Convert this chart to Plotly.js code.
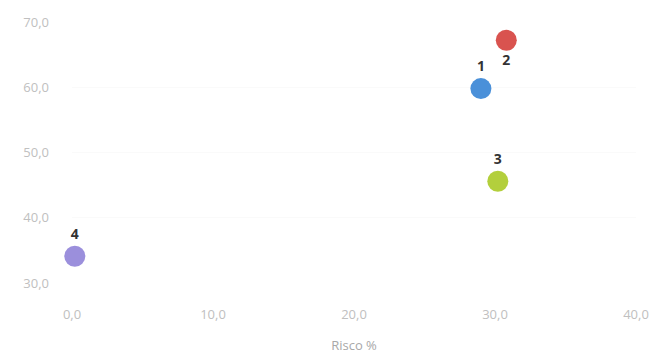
<!DOCTYPE html>
<html>
<head>
<meta charset="utf-8">
<script src="https://cdn.plot.ly/plotly-3.0.1.min.js"></script>
<style>html,body{margin:0;padding:0;background:#fff;}#chart{width:651px;height:354px;}</style>
</head>
<body>
<div id="chart"></div>
<script>
const labels = ["1", "2", "3", "4"];
const risco = [29.0, 30.8, 30.2, 0.2];
const retorno = [59.8, 67.2, 45.6, 34.1];
const colors = ["#4a90d9", "#d9534f", "#b3cf3c", "#9b8fdc"];
const labelPos = ["top center", "bottom center", "top center", "top center"];
const xTicks = [0, 10, 20, 30, 40];
const xTickText = ["0,0", "10,0", "20,0", "30,0", "40,0"];
const yTicks = [30, 40, 50, 60, 70];
const yTickText = ["30,0", "40,0", "50,0", "60,0", "70,0"];

const trace = {
  type: "scatter",
  mode: "markers+text",
  x: risco,
  y: retorno,
  text: labels,
  textposition: labelPos,
  textfont: {family: "Open Sans, sans-serif", size: 14, color: "#333333", weight: "bold"},
  marker: {size: 21, color: colors, line: {width: 0}},
  cliponaxis: false,
  hoverinfo: "none"
};

const layout = {
  width: 651, height: 354,
  margin: {l: 72, r: 15, t: 22, b: 71},
  paper_bgcolor: "#ffffff",
  plot_bgcolor: "#ffffff",
  showlegend: false,
  font: {family: "Open Sans, sans-serif", color: "#bdbdbd", size: 13},
  xaxis: {
    range: [0, 40],
    tickvals: xTicks, ticktext: xTickText,
    showgrid: false, zeroline: false, showline: false,
    ticks: "", ticklabelstandoff: 22,
    tickfont: {size: 13, color: "#c0c0c0"},
    title: {text: "Risco %", font: {size: 13, color: "#a8a8a8"}, standoff: 20}
  },
  yaxis: {
    range: [30, 70],
    tickvals: yTicks, ticktext: yTickText,
    showgrid: true, gridcolor: "#fafafa", zeroline: false, showline: false,
    ticks: "", ticklabelstandoff: 22,
    tickfont: {size: 13, color: "#c0c0c0"}
  }
};

Plotly.newPlot("chart", [trace], layout, {displayModeBar: false, staticPlot: true});
</script>
</body>
</html>
